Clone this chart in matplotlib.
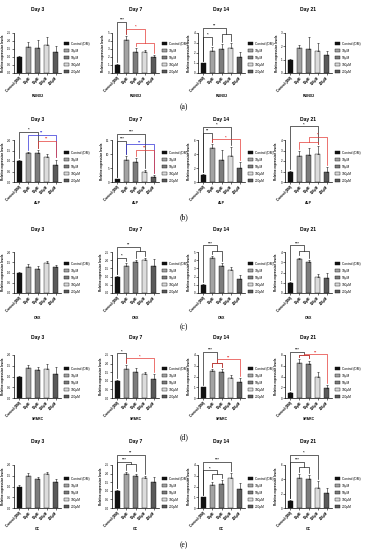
import matplotlib
matplotlib.use("Agg")
import matplotlib.pyplot as plt
from matplotlib.patches import Patch

plt.rcParams['font.family'] = ['Liberation Sans', 'DejaVu Sans']

groups = ["Control (DM)", "10\u00b5M", "50\u00b5M", "100\u00b5M", "200\u00b5M"]
days = ["Day 3", "Day 7", "Day 14", "Day 21"]
genes = ["RUNX2", "ALP", "OSX", "SPARC", "OC"]
letters = ["(a)", "(b)", "(c)", "(d)", "(e)"]
bar_colors = ["#111111", "#a3a3a3", "#7c7c7c", "#dcdcdc", "#5a5a5a"]

# means / SD, one list per day
runx2_mean = [[1.0, 1.62, 1.58, 1.75, 1.30], [1.0, 4.1, 2.66, 2.6, 1.96],
              [1.0, 2.2, 2.4, 2.47, 1.63], [1.0, 1.85, 1.8, 1.67, 1.35]]
runx2_err = [[0.07, 0.33, 0.48, 0.48, 0.39], [0.08, 0.5, 0.44, 0.3, 0.29],
             [0.03, 0.43, 0.47, 0.5, 0.5], [0.04, 0.25, 0.88, 0.6, 0.3]]
alp_mean = [[1.0, 1.36, 1.39, 1.2, 0.83], [1.0, 8.0, 7.0, 3.4, 1.8],
            [1.0, 4.87, 3.2, 3.7, 2.0], [1.0, 2.44, 2.6, 2.7, 0.98]]
alp_err = [[0.04, 0.08, 0.13, 0.11, 0.24], [0.1, 1.4, 1.6, 1.0, 0.8],
           [0.1, 0.5, 1.4, 1.3, 0.8], [0.05, 0.52, 0.65, 0.7, 0.42]]
osx_mean = [[1.0, 1.25, 1.17, 1.44, 1.25], [1.0, 1.64, 1.86, 2.0, 1.64],
            [1.0, 4.32, 3.32, 2.8, 1.72], [1.0, 3.36, 3.04, 1.54, 1.44]]
osx_err = [[0.04, 0.15, 0.14, 0.11, 0.11], [0.04, 0.16, 0.14, 0.16, 0.46],
           [0.05, 0.18, 0.28, 0.4, 0.48], [0.05, 0.1, 0.16, 0.28, 0.48]]
sparc_mean = [[1.0, 1.38, 1.28, 1.35, 1.1], [1.0, 1.67, 1.5, 1.38, 1.1],
              [1.0, 2.55, 2.46, 1.85, 1.48], [1.0, 6.46, 6.28, 3.88, 1.85]]
sparc_err = [[0.04, 0.16, 0.15, 0.22, 0.36], [0.04, 0.25, 0.23, 0.16, 0.28],
             [0.04, 0.15, 0.24, 0.25, 0.37], [0.1, 0.74, 0.67, 1.0, 0.6]]
oc_mean = [[1.0, 1.51, 1.34, 1.58, 1.23], [1.0, 1.96, 1.87, 1.77, 1.54],
           [1.0, 2.1, 2.2, 2.77, 1.75], [1.0, 4.15, 4.06, 2.86, 2.08]]
oc_err = [[0.05, 0.11, 0.12, 0.1, 0.12], [0.04, 0.14, 0.13, 0.11, 0.29],
          [0.05, 0.36, 0.4, 0.46, 0.62], [0.08, 0.6, 0.54, 0.84, 0.69]]

# axis top and tick step per panel
y_top = [[2.5, 5, 4, 3], [2.0, 15, 6, 4], [2.0, 2.5, 5, 4], [2.0, 2.5, 4, 8], [2.0, 2.5, 4, 6]]
y_step = [[0.5, 1, 1, 1], [0.5, 5, 2, 1], [0.5, 0.5, 1, 1], [0.5, 0.5, 1, 2], [0.5, 0.5, 1, 2]]

# significance brackets: (from, to, stars, colour, level, sub level); tuple = group of bars
runx2_sig = [[], [(0, 1, '***', 'k', 1.28, None), (1, (2, 4), '*', 'r', 1.10, 0.76)],
             [(0, (2, 3), '**', 'k', 1.13, 0.97), (0, 1, '*', 'k', 0.90, None)], []]
alp_sig = [[(0, 2, '*', 'k', 1.2, None), (1, 4, '**', 'b', 1.12, None), (2, 4, '**', 'r', 0.98, None)],
           [(0, 3, '***', 'k', 1.14, None), (0, 1, '***', 'k', 0.98, None),
            (1, 4, '**', 'b', 0.9, None), (2, 4, '**', 'r', 0.76, None)],
           [(0, 3, '*', 'k', 1.32, None), (0, 1, '**', 'k', 1.17, None), (1, 4, '*', 'r', 1.02, None)],
           [(0, 3, '*', 'k', 1.33, None), ((1, 3), 4, '*', 'r', 1.07, 0.96)]]
osx_sig = [[], [(0, (2, 3), '**', 'k', 1.12, 1.02), (0, 1, '*', 'k', 0.86, None)],
           [(0, (1, 2), '***', 'k', 1.16, 1.02)], [(0, (1, 2), '***', 'k', 1.16, 1.02)]]
sparc_sig = [[], [(0, 1, '*', 'k', 1.04, None), (1, 4, '*', 'r', 0.92, None)],
             [(0, (1, 2), '***', 'k', 1.08, 0.81), ((1, 2), 4, '**', 'r', 0.9, 0.81)],
             [(0, (1, 2), '***', 'k', 1.08, 1.0), ((1, 2), 4, '**', 'r', 1.02, 1.0)]]
oc_sig = [[], [(0, 3, '**', 'k', 1.23, None), (0, (1, 2), '***', 'k', 1.08, 1.02)],
          [(0, 3, '***', 'k', 1.08, None), (0, (1, 2), '*', 'k', 0.88, 0.78)],
          [(0, 3, '*', 'k', 1.23, None), (0, (1, 2), '***', 'k', 1.08, 0.96)]]

all_mean = [runx2_mean, alp_mean, osx_mean, sparc_mean, oc_mean]
all_err = [runx2_err, alp_err, osx_err, sparc_err, oc_err]
all_sig = [runx2_sig, alp_sig, osx_sig, sparc_sig, oc_sig]

sig_colors = {'k': '#222222', 'r': '#e53935', 'b': '#3030d8'}

W, H = 368, 550
row_title = [9, 119, 229, 338, 442]
row_top = [33, 140, 252, 355, 465]
row_bot = [73, 182, 293, 398, 508]
row_gene = [96, 203, 318, 419, 529]
row_letter = [107, 217, 327, 437, 545]
col_left = [14, 112, 198, 285]
ax_w = 47

fig = plt.figure(figsize=(W / 100, H / 100), dpi=100)


def bar_top(means, errs, i, ymax):
    return (means[i] + errs[i]) / ymax + 0.05


def draw_sig(ax, means, errs, ymax, sig):
    for a, b, txt, c, lev, sub in sig:
        col = sig_colors[c]
        ends = []
        for e in (a, b):
            if isinstance(e, tuple):
                x = (e[0] + e[1]) / 2
                ax.plot([e[0], e[0], e[1], e[1]],
                        [min(bar_top(means, errs, e[0], ymax), sub - 0.03) * ymax, sub * ymax,
                         sub * ymax, min(bar_top(means, errs, e[1], ymax), sub - 0.03) * ymax],
                        color=col, lw=0.5, clip_on=False)
                ends.append((x, sub))
            else:
                ends.append((e, min(bar_top(means, errs, e, ymax), lev - 0.04)))
        (x1, y1), (x2, y2) = ends
        ax.plot([x1, x1, x2, x2], [y1 * ymax, lev * ymax, lev * ymax, y2 * ymax],
                color=col, lw=0.5, clip_on=False)
        ax.text((x1 + x2) / 2, lev * ymax, txt, ha='center', va='bottom',
                fontsize=3, color=col, fontweight='bold', clip_on=False)


for r in range(5):
    for c in range(4):
        means = all_mean[r][c]
        errs = all_err[r][c]
        ymax = y_top[r][c]
        step = y_step[r][c]
        left = col_left[c] / W
        bottom = 1 - row_bot[r] / H
        ax = fig.add_axes([left, bottom, ax_w / W, (row_bot[r] - row_top[r]) / H])
        xs = list(range(len(groups)))
        ax.bar(xs, means, width=0.62, color=bar_colors, edgecolor='#111111', linewidth=0.3)
        ax.errorbar(xs, means, yerr=[[0] * len(errs), errs], fmt='none',
                    ecolor='#111111', elinewidth=0.4, capsize=1.0, capthick=0.4)
        ax.set_xlim(-0.6, 4.6)
        ax.set_ylim(0, ymax)
        nt = int(round(ymax / step))
        ticks = [step * k for k in range(nt + 1)]
        ax.set_yticks(ticks)
        if step < 1:
            ax.set_yticklabels(["%.1f" % t for t in ticks])
        else:
            ax.set_yticklabels(["%d" % t for t in ticks])
        ax.set_xticks(xs)
        ax.set_xticklabels(groups, rotation=45, ha='right', rotation_mode='anchor',
                           fontsize=2.3, fontweight='bold')
        ax.tick_params(axis='y', labelsize=2.2, length=1.2, width=0.4, pad=0.8)
        ax.tick_params(axis='x', length=1.2, width=0.4, pad=0.8)
        for s in ['top', 'right']:
            ax.spines[s].set_visible(False)
        for s in ['left', 'bottom']:
            ax.spines[s].set_linewidth(0.5)
        ax.set_ylabel("Relative expression levels", fontsize=2.2, fontweight='bold', labelpad=1.5)
        draw_sig(ax, means, errs, ymax, all_sig[r][c])

        handles = [Patch(facecolor=bar_colors[k], edgecolor='#111111', linewidth=0.3)
                   for k in range(len(groups))]
        ax.legend(handles, groups, loc='lower left', bbox_to_anchor=(1.07, -0.02),
                  frameon=False, fontsize=2.3, handlelength=1.5, handleheight=0.9,
                  labelspacing=0.95, borderpad=0, borderaxespad=0, handletextpad=0.6)

        cx = (col_left[c] + ax_w / 2) / W
        fig.text(cx, 1 - row_title[r] / H, days[c], ha='center', va='center',
                 fontsize=3.6, fontweight='bold')
        fig.text(cx, 1 - row_gene[r] / H, genes[r], ha='center', va='center',
                 fontsize=2.5, fontweight='bold')
    fig.text(0.5, 1 - row_letter[r] / H, letters[r], ha='center', va='center',
             fontsize=5.5, family=['Liberation Serif', 'DejaVu Serif'])

fig.savefig("out.png", dpi=100)
